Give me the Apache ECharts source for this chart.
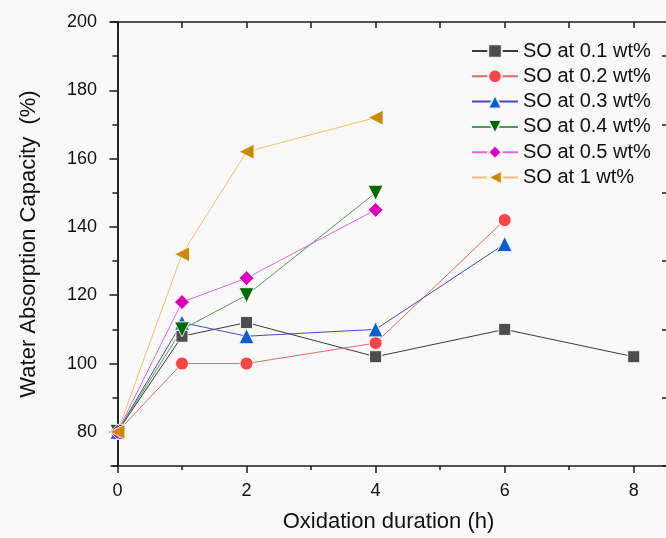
<!DOCTYPE html>
<html>
<head>
<meta charset="utf-8">
<script src="https://cdn.jsdelivr.net/npm/echarts@6/dist/echarts.min.js"></script>
<style>
  html, body { margin: 0; padding: 0; background: #f9f9f9; }
  #chart { width: 666px; height: 538px; }
</style>
</head>
<body>
<div id="chart"></div>
<script>
// Oxidation time (h) and water absorption capacity (%) for each SO loading
const hours01 = [0, 1, 2, 4, 6, 8];
const so01 = [80, 108, 112, 102, 110, 102];

const hours02 = [0, 1, 2, 4, 6];
const so02 = [80, 100, 100, 106, 142];

const hours03 = [0, 1, 2, 4, 6];
const so03 = [80, 112, 108, 110, 135];

const hours04 = [0, 1, 2, 4];
const so04 = [80, 110, 120, 150];

const hours05 = [0, 1, 2, 4];
const so05 = [80, 118, 125, 145];

const hours1 = [0, 1, 2, 4];
const so1 = [80, 132, 162, 172];

const seriesNames = ['SO at 0.1 wt%', 'SO at 0.2 wt%', 'SO at 0.3 wt%', 'SO at 0.4 wt%', 'SO at 0.5 wt%', 'SO at 1 wt%'];

const xMajorTicks = [0, 2, 4, 6, 8];
const xMinorTicks = [1, 3, 5, 7];
const xTopTicks = [0, 1, 2, 3, 4, 5, 6, 7, 8];
const yMajorTicks = [80, 100, 120, 140, 160, 180, 200];
const yMinorTicks = [70, 90, 110, 130, 150, 170, 190];

const FONT = '"Liberation Sans", Arial, Helvetica, sans-serif';
const X_MIN = -0.1, X_MAX = 8.5, Y_MIN = 70, Y_MAX = 200;

function pairs(xs, ys) { return xs.map((x, i) => [x, ys[i]]); }

function lineSeries(name, xs, ys, symbol, size, markColor, lineColor, rotate) {
  return {
    name: name,
    type: 'line',
    data: pairs(xs, ys),
    symbol: symbol,
    symbolSize: size,
    symbolRotate: rotate || 0,
    showAllSymbol: true,
    lineStyle: { color: lineColor, width: 1 },
    itemStyle: { color: markColor, borderColor: 'rgba(250,250,250,0.9)', borderWidth: 1 },
    emphasis: { disabled: true },
    animation: false
  };
}

const blank = { show: false };
const black = '#1a1a1a';

const chart = echarts.init(document.getElementById('chart'), null, { renderer: 'canvas' });
chart.setOption({
  backgroundColor: '#f9f9f9',
  animation: false,
  grid: { left: 111, right: -1, top: 22, bottom: 67, containLabel: false },
  legend: {
    orient: 'vertical',
    left: 466,
    top: 36,
    itemWidth: 46,
    itemHeight: 17,
    itemGap: 5.3,
    textStyle: { fontFamily: FONT, fontSize: 20, color: '#111' },
    data: seriesNames
  },
  xAxis: [
    {
      type: 'value', position: 'bottom', min: X_MIN, max: X_MAX,
      axisLine: { show: true, lineStyle: { color: black, width: 1.5 } },
      axisTick: { show: true, inside: false, length: 7, customValues: xMajorTicks, lineStyle: { color: black, width: 1.5 } },
      axisLabel: { customValues: xMajorTicks, fontFamily: FONT, fontSize: 18, color: '#111', margin: 16 },
      splitLine: blank,
      name: 'Oxidation duration (h)', nameLocation: 'middle', nameGap: 45,
      nameTextStyle: { fontFamily: FONT, fontSize: 22, color: '#111' }
    },
    {
      type: 'value', position: 'bottom', min: X_MIN, max: X_MAX,
      axisLine: blank,
      axisTick: { show: true, inside: false, length: 4, customValues: xMinorTicks, lineStyle: { color: black, width: 1.5 } },
      axisLabel: blank, splitLine: blank
    },
    {
      type: 'value', position: 'top', min: X_MIN, max: X_MAX,
      axisLine: { show: true, lineStyle: { color: black, width: 1.5 } },
      axisTick: { show: true, inside: true, length: 6, customValues: xTopTicks, lineStyle: { color: black, width: 1.5 } },
      axisLabel: blank, splitLine: blank
    }
  ],
  yAxis: [
    {
      type: 'value', position: 'left', min: Y_MIN, max: Y_MAX,
      axisLine: { show: true, lineStyle: { color: black, width: 1.5 } },
      axisTick: { show: true, inside: false, length: 8, customValues: yMajorTicks, lineStyle: { color: black, width: 1.5 } },
      axisLabel: { customValues: yMajorTicks, fontFamily: FONT, fontSize: 18, color: '#111', margin: 14 },
      splitLine: blank,
      name: 'Water Absorption Capacity  (%)', nameLocation: 'middle', nameGap: 71,
      nameTextStyle: { fontFamily: FONT, fontSize: 22, color: '#111' }
    },
    {
      type: 'value', position: 'left', min: Y_MIN, max: Y_MAX,
      axisLine: blank,
      axisTick: { show: true, inside: false, length: 5, customValues: yMinorTicks, lineStyle: { color: black, width: 1.5 } },
      axisLabel: blank, splitLine: blank
    },
    {
      type: 'value', position: 'right', min: Y_MIN, max: Y_MAX,
      axisLine: { show: true, lineStyle: { color: black, width: 1.5 } },
      axisTick: { show: true, inside: true, length: 7, customValues: yMajorTicks, lineStyle: { color: black, width: 1.5 } },
      axisLabel: blank, splitLine: blank
    },
    {
      type: 'value', position: 'right', min: Y_MIN, max: Y_MAX,
      axisLine: blank,
      axisTick: { show: true, inside: true, length: 4, customValues: yMinorTicks, lineStyle: { color: black, width: 1.5 } },
      axisLabel: blank, splitLine: blank
    }
  ],
  series: [
    lineSeries(seriesNames[0], hours01, so01, 'rect', 12, '#4d4d4d', '#3a3a3a'),
    lineSeries(seriesNames[1], hours02, so02, 'circle', 13, '#f54545', '#e06a6a'),
    lineSeries(seriesNames[2], hours03, so03, 'triangle', 15, '#0a5fd0', '#4848b8'),
    lineSeries(seriesNames[3], hours04, so04, 'triangle', 15, '#006a00', '#4f9a58', 180),
    lineSeries(seriesNames[4], hours05, so05, 'diamond', 15, '#dd00bb', '#e06ad6'),
    lineSeries(seriesNames[5], hours1, so1, 'triangle', 15, '#c98a00', '#efc070', 90)
  ]
});
</script>
</body>
</html>
